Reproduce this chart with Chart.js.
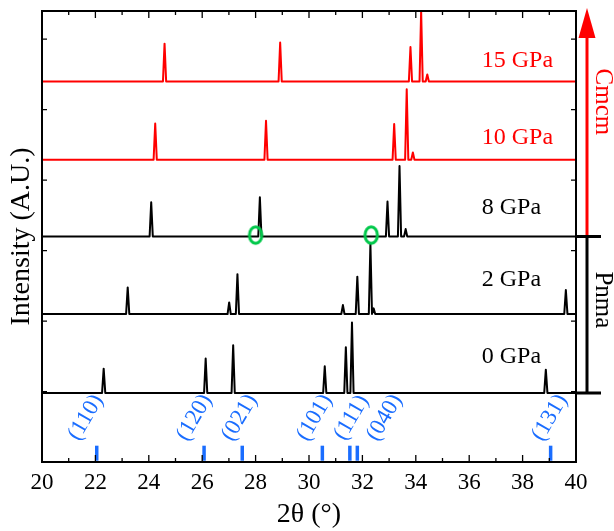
<!DOCTYPE html>
<html>
<head>
<meta charset="utf-8">
<script src="https://cdn.jsdelivr.net/npm/chart.js@4.4.0/dist/chart.umd.min.js"></script>
<style>
  html, body { margin: 0; padding: 0; background: #fff; }
  #wrap { width: 614px; height: 531px; }
</style>
</head>
<body>
<div id="wrap"><canvas id="xrdChart" width="614" height="531"></canvas></div>
<script>
// XRD patterns under pressure, stacked with a vertical offset per pressure
const pressureLabels = ['0 GPa', '2 GPa', '8 GPa', '10 GPa', '15 GPa'];
const baselines = [0.98, 2.1, 3.2, 4.29, 5.4];

const peaks0 = [22.31, 26.13, 27.16, 30.59, 31.38, 31.61, 38.87];
const heights0 = [0.345, 0.487, 0.675, 0.378, 0.65, 1.0, 0.33];

const peaks2 = [23.21, 27.01, 27.32, 31.27, 31.81, 32.30, 32.42, 39.62];
const heights2 = [0.378, 0.165, 0.566, 0.127, 0.53, 1.0, 0.08, 0.34];

const peaks8 = [24.09, 28.16, 32.94, 33.39, 33.62];
const heights8 = [0.487, 0.557, 0.495, 1.0, 0.105];

const peaks10 = [24.24, 28.39, 33.19, 33.66, 33.89];
const heights10 = [0.513, 0.552, 0.505, 1.0, 0.103];

const peaks15 = [24.59, 28.92, 33.80, 34.20, 34.43];
const heights15 = [0.537, 0.552, 0.49, 1.0, 0.1];

// Pnma reference reflections
const hklLabels = ['(110)', '(120)', '(021)', '(101)', '(111)', '(040)', '(131)'];
const hklPositions = [22.05, 26.07, 27.50, 30.50, 31.53, 31.81, 39.05];

// reflections that disappear at 8 GPa
const markedPeaks = [28.0, 32.33];

// layout
const FONT = '"Liberation Serif", "Times New Roman", serif';
const RED = '#ff0000';
const BLUE = '#1a6dff';
const GREEN = '#00c84a';
const hklLabelX = [21.64, 25.71, 27.40, 30.21, 31.59, 32.83, 39.02];
const hklLabelY = 0.63;
const hklTickY = 0.125;
const pressureLabelX = 36.47;
const pressureLabelY = [1.50, 2.58, 3.61, 4.60, 5.69];
const phaseLabelY = { Pnma: 2.30, Cmcm: 5.11 };

const patternPeaks = [peaks0, peaks2, peaks8, peaks10, peaks15];
const patternHeights = [heights0, heights2, heights8, heights10, heights15];
const patternColors = ['#000', '#000', '#000', RED, RED];

// each reflection is drawn as a narrow spike on the offset baseline
function buildPattern(peaks, heights, base) {
  const w = 0.06;
  const pts = [{ x: 20, y: base }];
  peaks.forEach((p, i) => {
    pts.push({ x: p - w, y: base }, { x: p, y: base + heights[i] }, { x: p + w, y: base });
  });
  pts.push({ x: 40, y: base });
  return pts;
}

function ellipseMarker() {
  const c = document.createElement('canvas');
  c.width = 20; c.height = 24;
  const g = c.getContext('2d');
  g.strokeStyle = GREEN;
  g.lineWidth = 3;
  g.beginPath();
  g.ellipse(10, 12, 6.2, 8.2, 0, 0, Math.PI * 2);
  g.stroke();
  return c;
}

const datasets = [
  {
    label: 'marked',
    type: 'scatter',
    data: markedPeaks.map(v => ({ x: v, y: baselines[2] + 0.02 })),
    pointStyle: ellipseMarker(),
    pointRadius: 10
  },
  {
    label: 'Pnma ref',
    type: 'scatter',
    data: hklPositions.map(v => ({ x: v, y: hklTickY })),
    pointStyle: 'line',
    rotation: 90,
    pointRadius: 7.5,
    borderColor: BLUE,
    borderWidth: 3.5,
    backgroundColor: BLUE
  }
];

patternPeaks.forEach((peaks, i) => {
  datasets.push({
    label: pressureLabels[i],
    data: buildPattern(peaks, patternHeights[i], baselines[i]),
    borderColor: patternColors[i],
    borderWidth: 2,
    pointRadius: 0,
    fill: false,
    tension: 0,
    borderJoinStyle: 'round'
  });
});

// box, inward ticks on all sides, peak/phase annotations
const frame = {
  id: 'frame',
  afterDatasetsDraw(chart) {
    const { ctx, chartArea: a, scales: { x, y } } = chart;
    ctx.save();
    ctx.strokeStyle = '#000';
    ctx.lineWidth = 2;
    ctx.strokeRect(a.left, a.top, a.right - a.left, a.bottom - a.top);

    ctx.lineWidth = 1.3;
    ctx.beginPath();
    const major = x.ticks.map(t => t.value);
    major.forEach((v, i) => {
      const px = x.getPixelForValue(v);
      ctx.moveTo(px, a.bottom); ctx.lineTo(px, a.bottom - 7);
      ctx.moveTo(px, a.top); ctx.lineTo(px, a.top + 7);
      if (i < major.length - 1) {
        const mx = x.getPixelForValue((v + major[i + 1]) / 2);
        ctx.moveTo(mx, a.bottom); ctx.lineTo(mx, a.bottom - 4);
        ctx.moveTo(mx, a.top); ctx.lineTo(mx, a.top + 4);
      }
    });
    y.ticks.filter(t => Number.isInteger(t.value) && t.value > 0).forEach(t => {
      const py = y.getPixelForValue(t.value);
      ctx.moveTo(a.left, py); ctx.lineTo(a.left + 5, py);
      ctx.moveTo(a.right, py); ctx.lineTo(a.right - 5, py);
    });
    ctx.stroke();

    // pressure labels
    ctx.font = '24px ' + FONT;
    ctx.textAlign = 'left';
    ctx.textBaseline = 'middle';
    pressureLabels.forEach((lbl, i) => {
      ctx.fillStyle = patternColors[i];
      ctx.fillText(lbl, x.getPixelForValue(pressureLabelX), y.getPixelForValue(pressureLabelY[i]));
    });

    // hkl labels
    ctx.font = '23px ' + FONT;
    ctx.fillStyle = BLUE;
    ctx.textAlign = 'center';
    hklLabels.forEach((lbl, i) => {
      ctx.save();
      ctx.translate(x.getPixelForValue(hklLabelX[i]), y.getPixelForValue(hklLabelY));
      ctx.rotate(-Math.PI / 3);
      ctx.fillText(lbl, 0, 0);
      ctx.restore();
    });

    // phase arrow on the right
    const ax = a.right + 11;
    const yLow = y.getPixelForValue(baselines[0]);
    const yMid = y.getPixelForValue(baselines[2]);
    ctx.lineWidth = 3;
    ctx.strokeStyle = RED;
    ctx.beginPath();
    ctx.moveTo(ax, yMid); ctx.lineTo(ax, a.top + 24);
    ctx.stroke();
    ctx.fillStyle = RED;
    ctx.beginPath();
    ctx.moveTo(ax, a.top - 3);
    ctx.lineTo(ax - 8.5, a.top + 27);
    ctx.lineTo(ax + 8.5, a.top + 27);
    ctx.closePath();
    ctx.fill();

    ctx.strokeStyle = '#000';
    ctx.beginPath();
    ctx.moveTo(ax, yLow); ctx.lineTo(ax, yMid);
    ctx.moveTo(a.right, yMid); ctx.lineTo(a.right + 25, yMid);
    ctx.moveTo(a.right, yLow); ctx.lineTo(a.right + 25, yLow);
    ctx.stroke();

    ctx.font = '25px ' + FONT;
    ctx.textAlign = 'center';
    ctx.textBaseline = 'middle';
    [['Cmcm', RED], ['Pnma', '#000']].forEach(([txt, col]) => {
      ctx.save();
      ctx.translate(a.right + 27, y.getPixelForValue(phaseLabelY[txt]));
      ctx.rotate(Math.PI / 2);
      ctx.fillStyle = col;
      ctx.fillText(txt, 0, 0);
      ctx.restore();
    });
    ctx.restore();
  }
};

new Chart(document.getElementById('xrdChart'), {
  type: 'line',
  data: { datasets },
  options: {
    responsive: false,
    animation: false,
    layout: { padding: { top: 10, right: 38, left: 0, bottom: 0 } },
    plugins: { legend: { display: false }, tooltip: { enabled: false } },
    scales: {
      x: {
        type: 'linear',
        min: 20,
        max: 40,
        grid: { display: false, drawTicks: false },
        border: { display: false },
        ticks: { stepSize: 2, color: '#000', padding: 7, font: { family: FONT, size: 23 } },
        title: {
          display: true,
          text: '2θ (°)',
          color: '#000',
          font: { family: FONT, size: 28 },
          padding: { top: 0, bottom: 0 }
        },
        afterFit(scale) { scale.height = 69; }
      },
      y: {
        min: 0,
        max: 6.4,
        grid: { display: false, drawTicks: false },
        border: { display: false },
        ticks: { display: false, stepSize: 1 },
        title: {
          display: true,
          text: 'Intensity (A.U.)',
          color: '#000',
          font: { family: FONT, size: 28 },
          padding: { top: 5, bottom: 0 }
        },
        afterFit(scale) { scale.width = 42; }
      }
    }
  },
  plugins: [frame]
});
</script>
</body>
</html>
